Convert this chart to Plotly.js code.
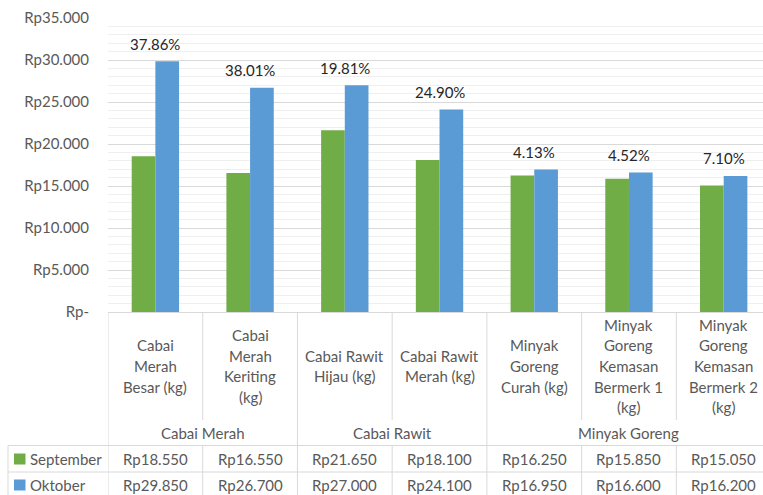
<!DOCTYPE html>
<html>
<head>
<meta charset="utf-8">
<script src="https://cdn.plot.ly/plotly-3.0.1.min.js"></script>
<style>html,body{margin:0;padding:0;background:#fff}</style>
</head>
<body>
<div id="chart" style="width:763px;height:495px"></div>
<script>
// Commodity names, one entry per line of the axis label
const categories = [
  ["Cabai", "Merah", "Besar (kg)"],
  ["Cabai", "Merah", "Keriting", "(kg)"],
  ["Cabai Rawit", "Hijau (kg)"],
  ["Cabai Rawit", "Merah (kg)"],
  ["Minyak", "Goreng", "Curah (kg)"],
  ["Minyak", "Goreng", "Kemasan", "Bermerk 1", "(kg)"],
  ["Minyak", "Goreng", "Kemasan", "Bermerk 2", "(kg)"]
];
const groups = ["Cabai Merah", "Cabai Rawit", "Minyak Goreng"];
const groupStart = [0, 2, 4];
const groupEnd = [1, 3, 6];
const seriesNames = ["September", "Oktober"];
const september = [18550, 16550, 21650, 18100, 16250, 15850, 15050];
const oktober = [29850, 26700, 27000, 24100, 16950, 16600, 16200];
const yTicks = [0, 5000, 10000, 15000, 20000, 25000, 30000, 35000];

const GREEN = "#70ad47", BLUE = "#5b9bd5", LINE = "#d9d9d9", GREY = "#595959";
const FONT = "Lato, 'Open Sans', sans-serif";

const W = 763, H = 495;
const M = {l: 108, r: 0, t: 18, b: 183};
const PW = W - M.l - M.r, PH = H - M.t - M.b;
const fx = px => (px - M.l) / PW;          // pixel x -> paper x
const fy = py => (H - M.b - py) / PH;      // pixel y -> paper y

const rp = n => n === 0 ? "Rp-" : "Rp" + String(n).replace(/\B(?=(\d{3})+(?!\d))/g, ".");
const idx = categories.map((_, i) => i);

const traces = [
  {type: "bar", name: seriesNames[0], x: idx, y: september, marker: {color: GREEN}, hoverinfo: "none"},
  {type: "bar", name: seriesNames[1], x: idx, y: oktober, marker: {color: BLUE}, hoverinfo: "none"}
];

const shapes = [];
const annotations = [];
const lineStyle = {color: LINE, width: 1};
const hline = (y, x0, x1) => shapes.push({type: "line", xref: "paper", yref: "paper", x0: x0, x1: x1, y0: y, y1: y, line: lineStyle});

// category column boundaries: full height at group edges, split at the group-label row otherwise
for (let k = 0; k <= categories.length; k++) {
  const xb = k - 0.5;
  const isGroupEdge = k === 0 || groupStart.includes(k) || k === categories.length;
  if (isGroupEdge) {
    shapes.push({type: "line", xref: "x", yref: "paper", x0: xb, x1: xb, y0: fy(312), y1: fy(500), line: lineStyle});
  } else {
    shapes.push({type: "line", xref: "x", yref: "paper", x0: xb, x1: xb, y0: fy(312), y1: fy(420), line: lineStyle});
    shapes.push({type: "line", xref: "x", yref: "paper", x0: xb, x1: xb, y0: fy(445.5), y1: fy(500), line: lineStyle});
  }
}
hline(fy(445.5), fx(8), 1.02);
hline(fy(472), fx(8), 1.02);
shapes.push({type: "line", xref: "paper", yref: "paper", x0: fx(8), x1: fx(8), y0: fy(445.5), y1: fy(500), line: lineStyle});

// category labels, vertically centred in the header row
const lineGap = 20.7, labelMid = 366;
categories.forEach((lines, i) => {
  const top = labelMid - (lines.length - 1) * lineGap / 2;
  lines.forEach((t, j) => {
    annotations.push({xref: "x", yref: "paper", x: i, y: fy(top + j * lineGap), text: t, showarrow: false,
      xanchor: "center", yanchor: "middle", font: {family: FONT, size: 15, color: GREY}});
  });
});

// group labels
groups.forEach((g, i) => {
  annotations.push({xref: "x", yref: "paper", x: (groupStart[i] + groupEnd[i]) / 2, y: fy(433), text: g,
    showarrow: false, xanchor: "center", yanchor: "middle", font: {family: FONT, size: 15, color: GREY}});
});

// data table rows with legend keys
const rows = [september, oktober];
const rowY = [459, 485];
const keyColors = [GREEN, BLUE];
rows.forEach((vals, r) => {
  shapes.push({type: "rect", xref: "paper", yref: "paper", x0: fx(14), x1: fx(25.5), y0: fy(rowY[r] - 5.5), y1: fy(rowY[r] + 5.5),
    fillcolor: keyColors[r], line: {width: 0}});
  annotations.push({xref: "paper", yref: "paper", x: fx(28), y: fy(rowY[r]), text: seriesNames[r], showarrow: false,
    xanchor: "left", yanchor: "middle", font: {family: FONT, size: 15, color: GREY}});
  vals.forEach((v, i) => {
    annotations.push({xref: "x", yref: "paper", x: i, y: fy(rowY[r]), text: rp(v), showarrow: false,
      xanchor: "center", yanchor: "middle", font: {family: FONT, size: 15, color: GREY}});
  });
});

// percentage change labels above each pair
oktober.forEach((v, i) => {
  const pct = ((v - september[i]) / v * 100).toFixed(2) + "%";
  annotations.push({xref: "x", yref: "y", x: i, y: v, yshift: 17.5, text: pct, showarrow: false,
    xanchor: "center", yanchor: "middle", font: {family: FONT, size: 15, color: "#262626"}});
});

const layout = {
  width: W, height: H,
  margin: M,
  paper_bgcolor: "#fff", plot_bgcolor: "#fff",
  showlegend: false,
  barmode: "group", bargap: 0.5, bargroupgap: 0,
  font: {family: FONT, size: 15, color: GREY},
  xaxis: {range: [-0.5, 6.415], showticklabels: false, ticks: "", showgrid: false, zeroline: false,
    showline: true, linecolor: LINE, linewidth: 1, fixedrange: true},
  yaxis: {range: [0, 35000], tickvals: yTicks, ticktext: yTicks.map(rp), ticks: "", ticklabelstandoff: 18,
    tickfont: {family: FONT, size: 15, color: GREY},
    showgrid: true, gridcolor: LINE, gridwidth: 1, zeroline: false, showline: false,
    minor: {dtick: 1000, showgrid: true, gridcolor: "#efefef", gridwidth: 1}, fixedrange: true},
  shapes: shapes,
  annotations: annotations
};

Plotly.newPlot("chart", traces, layout, {displayModeBar: false, staticPlot: true});
</script>
</body>
</html>
